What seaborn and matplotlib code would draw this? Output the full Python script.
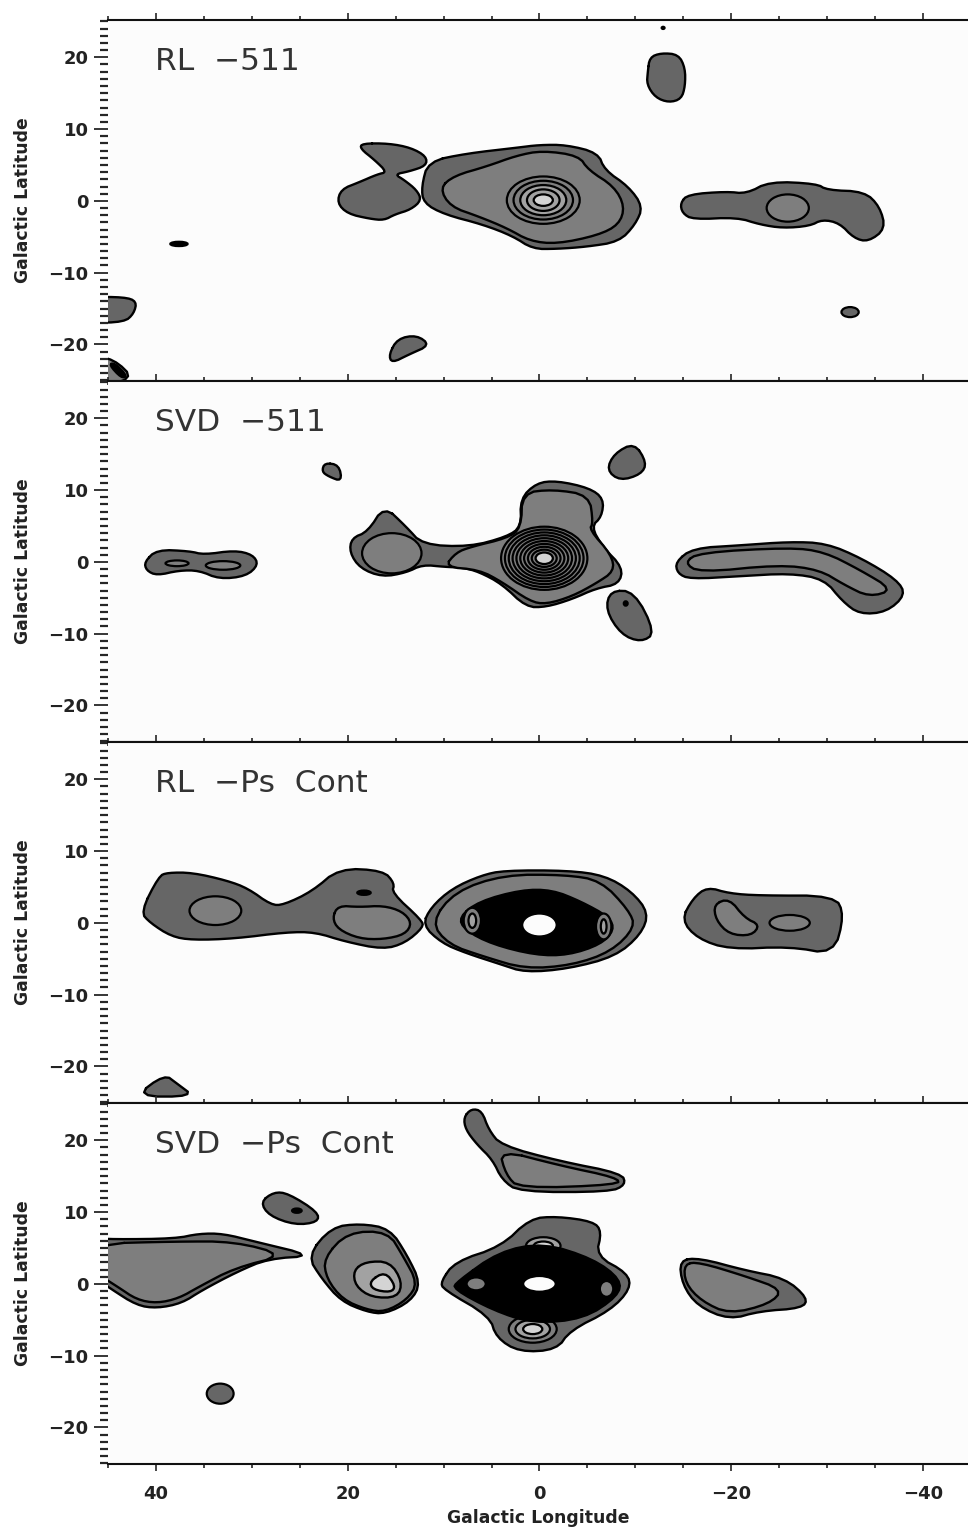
#!/usr/bin/env python3
"""Four galactic contour maps (RL / SVD, 511 keV line and positronium continuum)"""

import matplotlib
matplotlib.use("Agg")
import matplotlib.pyplot as plt
from matplotlib.patches import Ellipse
from matplotlib.ticker import FixedLocator
import pandas as pd
import seaborn as sns

PANEL_NAMES = ["RL  \u2212511", "SVD  \u2212511", "RL  \u2212Ps  Cont", "SVD  \u2212Ps  Cont"]
X_MAJOR = [40, 20, 0, -20, -40]
X_MINOR = [45, 35, 30, 25, 15, 10, 5, -5, -10, -15, -25, -30, -35]
Y_MAJOR = [20, 10, 0, -10, -20]
Y_MINOR = list(range(-25, 26))

# contour tones, darkest to lightest
TONES = ["#000000", "#666666", "#7e7e7e", "#a2a2a2", "#d4d4d4", "#fcfcfc"]

# outlines as (longitude, latitude)
RL511_BLOB_NE = [(-11.3, 18), (-11.5, 20), (-12.7, 20.6), (-14.5, 20.4), (-15.2, 18.5), (-15.2, 16), (-14.8, 14.2),
                 (-13.5, 13.7), (-12.1, 14.4), (-11.2, 16.2)]
RL511_DUMBBELL = [(18.5, 8.0), (15.7, 8.0), (13.4, 7.4), (11.8, 6.2), (11.8, 4.9), (13.6, 4.1), (15.1, 3.7), (14.1, 2.9),
                  (12.8, 1.5), (12.3, 0.1), (13.4, -1.2), (15.1, -1.9), (16.2, -2.7), (17.7, -2.5), (20.0, -1.8),
                  (21.1, -0.3), (20.7, 1.6), (18.8, 2.6), (16.9, 3.7), (15.9, 4.0), (17.2, 5.7), (18.7, 7.3)]
RL511_BULGE = [(11.6, 5.5), (7.6, 6.6), (2.4, 7.4), (0, 7.8), (-2.8, 7.8), (-6.1, 6.7), (-6.8, 4.3), (-9.3, 2.0),
               (-10.8, -0.8), (-10.0, -3.3), (-8.3, -5.7), (-4.9, -6.4), (-1.8, -6.7), (0.7, -6.7), (2.8, -4.9),
               (5.9, -3.3), (9.9, -1.9), (12.1, -0.3), (12.3, 2.0)]
RL511_BULGE_IN = [(10.4, 1.8), (8.9, 3.5), (5.5, 4.8), (2.4, 6.3), (-0.3, 7.0), (-4.1, 6.3), (-5.1, 4.3), (-7.8, 2.0),
                  (-8.9, -0.8), (-8.3, -3.3), (-6.1, -4.8), (-1.8, -6.0), (1.0, -5.6), (3.4, -3.8), (6.3, -2.2),
                  (9.3, -0.8)]
RL511_ARM = [(-14.7, -0.3), (-15.5, 0.9), (-19.5, 1.3), (-21.6, 1.0), (-24.0, 2.7), (-28.9, 2.4), (-30.0, 1.5),
             (-33.9, 1.3), (-35.5, -0.8), (-36.1, -3.9), (-34.3, -5.7), (-32.8, -5.2), (-31.3, -3.1), (-29.5, -2.6),
             (-28.2, -3.5), (-25.4, -3.8), (-23.0, -3.3), (-20.6, -2.3), (-16.0, -2.6), (-14.9, -1.7)]
RL511_EDGE = [(47, -13.4), (43.3, -13.4), (42.0, -14.0), (42.3, -15.7), (43.3, -16.9), (47, -17.0)]
RL511_LOW = [(15.7, -21.4), (14.8, -19.2), (12.8, -18.7), (11.4, -20.1), (13.6, -21.4), (15.4, -22.6)]
RL511_CORNER = [(47, -21.6), (44.4, -22), (42.2, -24.9), (47, -26)]
RL511_STRIPE = [(44.9, -22.8), (44.3, -22.6), (43.0, -24.4), (43.6, -24.7)]

SVD511_NE = [(-9.9, 16.6), (-11.2, 13.8), (-10.6, 12.2), (-8.4, 11.3), (-7.0, 12.8), (-7.8, 15.1)]
SVD511_SE = [(-7.4, -4.0), (-9.9, -4.1), (-12.1, -9.9), (-10.6, -11.2), (-8.5, -10.1), (-6.9, -6.7)]
SVD511_MAIN = [(16.2, 7.8), (13.9, 4.9), (12.2, 2.4), (7.3, 2.1), (3.4, 3.5), (1.9, 4.9), (2.0, 8.8), (0.3, 11.0),
               (-1.8, 11.3), (-5.2, 10.3), (-6.7, 8.8), (-6.5, 6.3), (-5.4, 4.9), (-6.6, 2.1), (-8.7, -0.8),
               (-8.3, -3.1), (-5.9, -3.7), (-3.4, -5.2), (-0.7, -6.3), (1.4, -6.3), (3.9, -3.1), (6.3, -1.4),
               (8.0, -0.8), (9.9, -0.7), (12.2, -0.4), (13.9, -1.5), (16.4, -2.1), (18.7, -0.9), (19.8, 1.3),
               (19.6, 3.3), (17.9, 4.2)]
SVD511_MAIN_IN = [(9.9, -0.7), (8.7, 1.3), (7.1, 2.1), (3.4, 3.3), (1.9, 4.7), (1.8, 9.6), (-1.4, 10.1), (-5.2, 9.3),
                  (-5.6, 5.4), (-5.2, 4.5), (-7.5, 1.0), (-7.8, -1.3), (-5.9, -3.0), (-3.4, -4.8), (-0.7, -5.9),
                  (1.0, -5.5), (3.9, -2.8), (6.3, -1.1)]
SVD511_WEST = [(41.2, 0), (39.9, 1.7), (36.5, 1.5), (35.0, 1.0), (31.8, 1.6), (29.9, 1.0), (29.3, -0.4), (30.6, -2.0),
               (33.4, -2.4), (35.5, -1.2), (37.6, -1.2), (39.9, -1.9), (41.0, -1.2)]
SVD511_SPOT = [(22.4, 13.8), (20.9, 13.5), (20.6, 11.2), (22.0, 11.9), (22.7, 12.6)]
SVD511_ARM = [(-14.2, 0), (-16.0, 1.9), (-20.9, 2.3), (-26.1, 2.8), (-29.9, 2.6), (-33.6, 0.5), (-37.3, -2.5),
              (-38.2, -4.6), (-36.2, -7.0), (-33.4, -7.3), (-31.6, -5.5), (-29.7, -2.4), (-26.1, -1.6), (-20.9, -2.0),
              (-15.7, -2.4), (-14.4, -1.6)]
SVD511_ARM_IN = [(-15.1, -0.1), (-16.7, 1.3), (-26.1, 2.0), (-29.7, 1.4), (-33.4, -1.1), (-36.9, -3.9), (-34.4, -4.9),
                 (-31.8, -3.2), (-29.2, -1.1), (-25.0, -0.4), (-16.7, -1.5)]

RLPS_WEST = [(41.6, 1.5), (39.7, 6.5), (38.8, 7.0), (36.2, 7.0), (32.6, 5.9), (30.4, 4.8), (28.0, 2.5), (26.7, 2.5),
             (23.7, 4.4), (20.9, 7.6), (16.3, 7.3), (15.1, 5.5), (15.4, 4.2), (12.3, 0.4), (12.1, -0.6), (14.0, -2.8),
             (16.3, -3.7), (20.3, -2.6), (23.4, -1.3), (26.4, -1.3), (31.8, -2.2), (36.2, -2.4), (38.4, -1.9),
             (40.6, 0)]
RLPS_WEST_IN = [(21.6, 0.7), (21.0, 2.4), (18.8, 2.2), (16.3, 2.4), (14.3, 1.6), (13.3, 0), (14.0, -1.6), (16.3, -2.3),
                (18.8, -2.2), (21.0, -0.9)]
RLPS_BULGE = [(12.2, -0.3), (11.3, 2.2), (9.1, 4.8), (6.1, 6.6), (3.7, 7.3), (-3.0, 7.3), (-6.8, 6.6), (-9.6, 4.4),
              (-11.4, 1.4), (-10.6, -1.6), (-7.9, -4.7), (-3.0, -6.4), (1.5, -6.9), (4.0, -5.8), (7.7, -4.2),
              (10.2, -2.8)]
RLPS_BULGE_IN = [(11.3, 0.1), (8.8, 4.4), (3.7, 6.7), (-2.7, 6.7), (-6.4, 5.9), (-9.3, 1.8), (-10.0, -0.6), (-7.5, -4.0),
                 (-3.4, -5.9), (1.5, -6.4), (5.8, -4.7), (9.5, -3.0)]
RLPS_CORE = [(8.4, 0.8), (6.3, 3.0), (1.9, 4.6), (-1.3, 4.6), (-4.3, 3.0), (-7.3, 0.8), (-7.8, -1.0), (-6.4, -3.0),
             (-3.0, -4.5), (0.4, -4.5), (4.9, -3.0), (7.8, -1.0)]
RLPS_EAST = [(-14.8, 0.4), (-16.0, 3.4), (-17.5, 5.0), (-19.8, 4.1), (-23.0, 3.8), (-30.8, 3.8), (-31.8, 1.1),
             (-30.7, -4.4), (-26.1, -3.3), (-19.8, -3.7), (-16.5, -2.2)]
RLPS_EAST_IN = [(-18.2, 2.6), (-19.8, 3.4), (-21.4, 0.7), (-23.0, -0.3), (-22.1, -1.8), (-19.8, -1.6), (-18.4, 0.4)]
RLPS_LOW = [(42.2, -24.2), (39.1, -21.1), (37.8, -22.4), (36.0, -24.2)]

SVDPS_TOP = [(7.9, 23.2), (7.1, 24.4), (6.0, 24.1), (5.3, 21.5), (4.0, 19.3), (-2.1, 17.1), (-8.6, 15.4), (-9.0, 13.8),
             (-7.3, 12.8), (2.1, 12.8), (3.9, 14.5), (4.9, 17.3), (6.5, 19.4), (7.7, 21.5)]
SVDPS_TOP_IN = [(4.2, 18.7), (-2.1, 16.5), (-8.1, 14.8), (-8.3, 13.8), (2.1, 13.3), (3.5, 15.2)]
SVDPS_SMALL = [(29.1, 11.4), (27.7, 12.8), (26.2, 12.6), (23.1, 10.0), (23.1, 8.6), (25.5, 8.2), (28.2, 9.5)]
SVDPS_WEST = [(46.5, 6.4), (44.5, 6.2), (38.0, 6.3), (35.5, 7.0), (33.0, 7.0), (29.7, 5.9), (23.5, 3.9), (28.3, 3.5),
              (31.5, 1.7), (35.2, -0.9), (37.3, -2.7), (39.9, -3.4), (42.0, -3.0), (44.7, -0.7), (46.5, 1.0)]
SVDPS_WEST_IN = [(46.5, 5.6), (38, 5.9), (31.8, 5.9), (26.5, 4.0), (31.8, 2.2), (35.5, -0.4), (37.6, -2.0), (39.9, -2.7),
                 (42, -2.2), (44, -0.4), (46.5, 1.7)]
SVDPS_MID = [(24.2, 3.9), (21.7, 7.9), (18.7, 8.4), (15.6, 7.7), (13.8, 4.0), (12.4, 0.1), (13.4, -2.4), (16.1, -4.2),
             (18.0, -3.9), (20.7, -2.4), (22.7, 0.7)]
SVDPS_MID_2 = [(22.5, 3.6), (20.0, 7.2), (15.8, 7.3), (14.2, 3.8), (12.7, 0.1), (13.8, -2.2), (16.1, -3.9), (18.0, -3.6),
               (20.5, -2.2), (22.2, 0.7)]
SVDPS_MID_3 = [(19.4, 1.9), (18.1, 3.1), (15.6, 3.1), (14.3, 0.3), (14.8, -1.9), (17.5, -1.9), (19.2, -0.3)]
SVDPS_MID_4 = [(17.7, 0.4), (16.1, 1.7), (15.0, -0.3), (15.5, -1.2), (17.4, -0.8)]
SVDPS_BULGE = [(10.3, 0.3), (8.8, 3.1), (4.0, 5.2), (1.0, 9.1), (-1.8, 9.4), (-5.6, 8.7), (-6.5, 7.3), (-5.9, 3.9),
               (-9.2, 1.5), (-9.5, -0.7), (-7.4, -3.7), (-3.2, -6.5), (-1.8, -9.2), (2.1, -9.5), (4.5, -7.5), (5.2, -4.5),
               (10.0, -0.8)]
SVDPS_CORE = [(8.6, 0.3), (4.2, 4.5), (-0.4, 5.7), (-5.6, 3.5), (-8.5, 0.6), (-8.2, -1.7), (-4.6, -4.9), (0.7, -5.5),
              (4.8, -3.7), (9.0, -0.7)]
SVDPS_EAST = [(-14.6, 3.3), (-16.7, 3.6), (-21.4, 1.9), (-25.6, 0.8), (-28.0, -2.0), (-27.4, -3.4), (-23, -3.8),
              (-19.8, -5.0), (-16.5, -3.1), (-14.9, -0.1)]
SVDPS_EAST_IN = [(-15.1, 2.8), (-16.7, 3.0), (-21.4, 1.1), (-25.4, -0.8), (-24, -2.8), (-19.8, -4.2), (-16.9, -2.4),
                 (-15.2, 0.1)]

# nested rings as (longitude, latitude, half width, half height)
RL511_RINGS = [(-0.4, 0.1, 3.8, 3.3), (-0.4, 0.1, 3.1, 2.7), (-0.4, 0.1, 2.4, 2.1), (-0.4, 0.1, 1.7, 1.5),
               (-0.4, 0.1, 1.0, 0.8)]
SVD511_RINGS = [(-0.5, 0.5, 4.5, 4.4), (-0.5, 0.5, 4.1, 4.0), (-0.5, 0.5, 3.7, 3.6), (-0.5, 0.5, 3.3, 3.2),
                (-0.5, 0.5, 2.9, 2.8), (-0.5, 0.5, 2.5, 2.4), (-0.5, 0.5, 2.1, 2.0), (-0.5, 0.5, 1.7, 1.6),
                (-0.5, 0.5, 1.3, 1.2)]
SVDPS_LOW_RINGS = [(0.7, -6.3, 2.5, 1.9), (0.7, -6.3, 1.8, 1.3), (0.7, -6.3, 1.0, 0.7)]
SVDPS_UP_RINGS = [(-0.4, 5.3, 1.8, 1.2), (-0.4, 5.3, 1.0, 0.6)]
RLPS_SIDE_RINGS = [(7.0, 0.3, 0.9, 1.8), (7.0, 0.3, 0.4, 1.0), (-6.7, -0.5, 0.8, 1.8), (-6.7, -0.5, 0.3, 1.0)]
SVDPS_SIDE_RINGS = [(6.6, 0, 1.0, 0.9), (-7.0, -0.7, 0.7, 1.1)]

# each panel lists its shapes bottom to top with a tone index
PANEL_SHAPES = [
    [(RL511_BLOB_NE, 1), (RL511_DUMBBELL, 1), (RL511_BULGE, 1), (RL511_BULGE_IN, 2), (RL511_RINGS[0], 2),
     (RL511_RINGS[1], 2), (RL511_RINGS[2], 3), (RL511_RINGS[3], 3), (RL511_RINGS[4], 4), (RL511_ARM, 1),
     ((-25.9, -1.0, 2.2, 1.9), 2), (RL511_EDGE, 1), (RL511_LOW, 1), (RL511_CORNER, 2), (RL511_STRIPE, 0),
     ((37.6, -6.0, 0.9, 0.3), 0), ((-32.4, -15.5, 0.9, 0.7), 1), ((-12.9, 24.1, 0.15, 0.15), 0)],
    [(SVD511_NE, 1), (SVD511_SE, 1), (SVD511_MAIN, 1), (SVD511_MAIN_IN, 2), ((15.4, 1.2, 3.1, 2.8), 2)]
    + [(r, 2) for r in SVD511_RINGS] + [((-0.5, 0.5, 0.9, 0.8), 4), (SVD511_WEST, 1),
     ((37.8, -0.2, 1.2, 0.4), 2), ((33.0, -0.5, 1.8, 0.6), 2), (SVD511_SPOT, 1), (SVD511_ARM, 1), (SVD511_ARM_IN, 2),
     ((-9.0, -5.8, 0.2, 0.3), 0)],
    [(RLPS_WEST, 1), ((33.8, 1.7, 2.7, 2.0), 2), (RLPS_WEST_IN, 2), ((18.3, 4.2, 0.7, 0.3), 0), (RLPS_BULGE, 1),
     (RLPS_BULGE_IN, 2), (RLPS_CORE, 0), (RLPS_SIDE_RINGS[0], 2), (RLPS_SIDE_RINGS[1], 3), (RLPS_SIDE_RINGS[2], 2),
     (RLPS_SIDE_RINGS[3], 3), ((0, -0.3, 1.8, 1.6), 5), (RLPS_EAST, 1), (RLPS_EAST_IN, 2),
     ((-26.1, 0, 2.1, 1.1), 2), (RLPS_LOW, 1)],
    [(SVDPS_TOP, 1), (SVDPS_TOP_IN, 2), (SVDPS_SMALL, 1), ((25.3, 10.2, 0.5, 0.3), 0), (SVDPS_WEST, 1),
     (SVDPS_WEST_IN, 2), (SVDPS_MID, 1), (SVDPS_MID_2, 2), (SVDPS_MID_3, 3), (SVDPS_MID_4, 4), (SVDPS_BULGE, 1),
     (SVDPS_UP_RINGS[0], 3), (SVDPS_UP_RINGS[1], 4), (SVDPS_LOW_RINGS[0], 2), (SVDPS_LOW_RINGS[1], 3),
     (SVDPS_LOW_RINGS[2], 4), (SVDPS_CORE, 0), (SVDPS_SIDE_RINGS[0], 2), (SVDPS_SIDE_RINGS[1], 2),
     ((0, 0, 1.7, 1.1), 5), (SVDPS_EAST, 1), (SVDPS_EAST_IN, 2), ((33.3, -15.3, 1.4, 1.4), 1)],
]

sns.set_style("white")
plt.rcParams["font.family"] = ["DejaVu Sans"]

W, H = 968, 1530
TOPS = [20, 381, 742, 1103]


def round_corners(points, passes=2):
    # corner cutting so the read vertices draw as a rounded contour
    for _ in range(passes):
        cut = []
        for (x0, y0), (x1, y1) in zip(points, points[1:] + points[:1]):
            cut.append((0.75 * x0 + 0.25 * x1, 0.75 * y0 + 0.25 * y1))
            cut.append((0.25 * x0 + 0.75 * x1, 0.25 * y0 + 0.75 * y1))
        points = cut
    return points


def draw_outline(ax, points, tone):
    rounded = round_corners(points)
    closed = pd.DataFrame(rounded + rounded[:1], columns=["lon", "lat"])
    ax.fill(closed["lon"], closed["lat"], color=TONES[tone], lw=0, zorder=2)
    sns.lineplot(data=closed, x="lon", y="lat", sort=False, estimator=None, color="black", lw=1.7,
                 legend=False, ax=ax, zorder=2)


def draw_oval(ax, oval, tone):
    lon, lat, half_w, half_h = oval
    ax.add_patch(Ellipse((lon, lat), 2 * half_w, 2 * half_h, facecolor=TONES[tone], edgecolor="black",
                         lw=1.6, zorder=2))


fig = plt.figure(figsize=(W / 100, H / 100), dpi=100)
for i, (name, shapes) in enumerate(zip(PANEL_NAMES, PANEL_SHAPES)):
    ax = fig.add_axes([108 / W, 1 - (TOPS[i] + 361) / H, 860 / W, 361 / H])
    ax.set_facecolor("#fcfcfc")
    for shape, tone in shapes:
        if isinstance(shape, tuple):
            draw_oval(ax, shape, tone)
        else:
            draw_outline(ax, shape, tone)

    ax.set_xlim(45, -44.7)
    ax.set_ylim(-25.1, 25.2)
    for side in ["left", "right"]:
        ax.spines[side].set_visible(False)
    for side in ["top", "bottom"]:
        ax.spines[side].set_linewidth(1.5)
        ax.spines[side].set_color("#111111")
    ax.xaxis.set_major_locator(FixedLocator(X_MAJOR))
    ax.xaxis.set_minor_locator(FixedLocator(X_MINOR))
    ax.yaxis.set_major_locator(FixedLocator(Y_MAJOR))
    ax.yaxis.set_minor_locator(FixedLocator(Y_MINOR))
    ax.tick_params(axis="x", which="major", direction="out", top=True, bottom=True, length=5, width=1.2,
                   labelbottom=i == 3, labelsize=13, pad=10, labelcolor="#222222")
    ax.tick_params(axis="x", which="minor", direction="out", top=True, bottom=True, length=3, width=1.2)
    ax.tick_params(axis="y", which="major", direction="out", left=True, length=10, width=1.3, labelsize=13, pad=4,
                   labelcolor="#222222")
    ax.tick_params(axis="y", which="minor", direction="out", left=True, length=6, width=1.6)
    ax.set_xticklabels([str(v).replace("-", "\u2212") for v in X_MAJOR], fontweight="bold")
    ax.set_yticklabels([str(v).replace("-", "\u2212") for v in Y_MAJOR], fontweight="bold")

    ax.set_ylabel("Galactic Latitude", fontsize=12.4, fontweight="bold", color="#222222")
    ax.yaxis.set_label_coords(-0.088, 0.5)
    if i == 3:
        ax.set_xlabel("Galactic Longitude", fontsize=12.4, fontweight="bold", color="#222222")
        ax.xaxis.set_label_coords(0.5, -0.124)
    else:
        ax.set_xlabel("")
    ax.text(40.1, 18.3, name, fontsize=22.5, color="#333333", ha="left", va="baseline", zorder=5)

fig.savefig("out.png", dpi=100, facecolor="white")
